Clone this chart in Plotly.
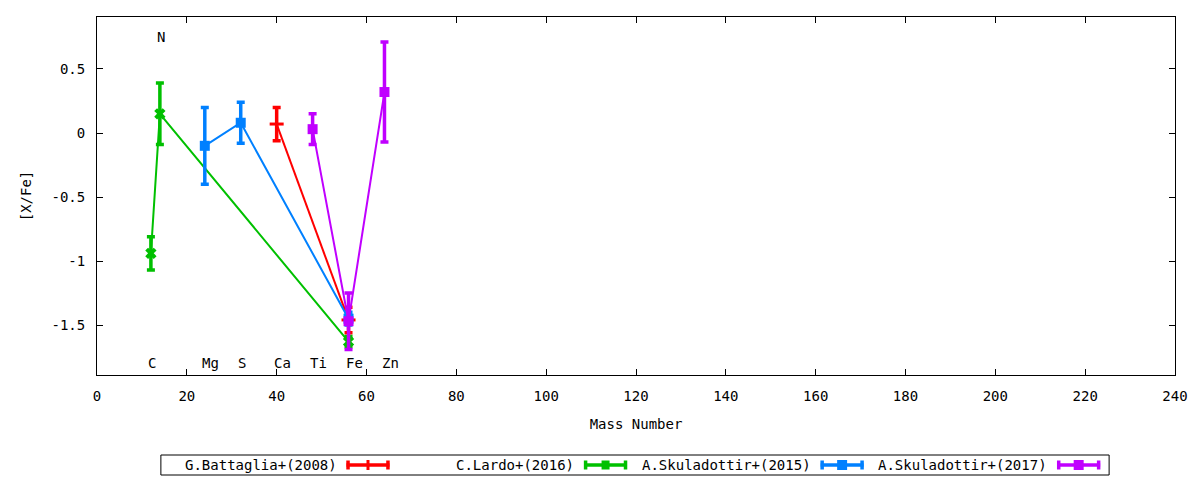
import plotly.graph_objects as go

# ---------------- data ----------------
series_names = ["G.Battaglia+(2008)", "C.Lardo+(2016)", "A.Skuladottir+(2015)", "A.Skuladottir+(2017)"]
series_colors = ["#ff0000", "#00c000", "#0080ff", "#c000ff"]

battaglia_x = [40, 56]
battaglia_y = [0.07, -1.46]
battaglia_err = [0.13, 0.10]

lardo_x = [12, 14, 56]
lardo_y = [-0.94, 0.15, -1.63]
lardo_err = [0.13, 0.24, 0.04]

sku2015_x = [24, 32, 56]
sku2015_y = [-0.10, 0.08, -1.45]
sku2015_err = [0.30, 0.16, 0.05]

sku2017_x = [48, 56, 64]
sku2017_y = [0.03, -1.47, 0.32]
sku2017_err = [0.12, 0.22, 0.39]

element_names = ["C", "Mg", "S", "Ca", "Ti", "Fe", "Zn"]
element_mass = [12, 24, 32, 40, 48, 56, 64]
top_element_names = ["N"]
top_element_mass = [14]

x_ticks = [0, 20, 40, 60, 80, 100, 120, 140, 160, 180, 200, 220, 240]
y_ticks = [0.5, 0, -0.5, -1, -1.5]
y_tick_text = ["0.5", "0", "-0.5", "-1", "-1.5"]

# ---------------- styling ----------------
FONT = "DejaVu Sans Mono"
FS = 14
W, H = 1200, 480
L, R, T, B = 97, 1177, 17, 375  # plot area in pixels

def px_x(px):
    return (px - L) / (R - L)

def px_y(py):
    return (B - py) / (B - T)

markers = [
    dict(symbol="line-ew", size=10, line=dict(width=3)),
    dict(symbol="x", size=10, line=dict(width=0)),
    dict(symbol="square", size=10),
    dict(symbol="square", size=10),
]

fig = go.Figure()
all_data = [
    (battaglia_x, battaglia_y, battaglia_err),
    (lardo_x, lardo_y, lardo_err),
    (sku2015_x, sku2015_y, sku2015_err),
    (sku2017_x, sku2017_y, sku2017_err),
]
for (xs, ys, es), name, col, mk in zip(all_data, series_names, series_colors, markers):
    m = dict(mk)
    m["color"] = col
    if "line" in m:
        m["line"] = dict(m["line"], color=col)
    fig.add_trace(go.Scatter(
        x=xs, y=ys, name=name, mode="lines+markers",
        line=dict(color=col, width=2),
        marker=m,
        error_y=dict(type="data", array=es, visible=True, color=col, thickness=3.5, width=4),
        showlegend=False,
    ))

txt_font = dict(family=FONT, size=FS, color="black")
annotations = []
for nm, ms in zip(element_names, element_mass):
    annotations.append(dict(x=ms - 1.0, y=-1.80, xref="x", yref="y", text=nm, showarrow=False,
                            xanchor="left", yanchor="middle", font=txt_font))
for nm, ms in zip(top_element_names, top_element_mass):
    annotations.append(dict(x=ms - 1.0, y=0.75, xref="x", yref="y", text=nm, showarrow=False,
                            xanchor="left", yanchor="middle", font=txt_font))

# ---------------- custom gnuplot-style key ----------------
shapes = []
key_y = 465
shapes.append(dict(type="rect", xref="paper", yref="paper",
                   x0=px_x(161), x1=px_x(1111), y0=px_y(475), y1=px_y(455),
                   line=dict(color="black", width=1), fillcolor="rgba(0,0,0,0)"))
text_right = [339, 577, 814, 1051]
for i, (name, col) in enumerate(zip(series_names, series_colors)):
    annotations.append(dict(x=px_x(text_right[i]), y=px_y(key_y), xref="paper", yref="paper",
                            text=name, showarrow=False, xanchor="right", yanchor="middle",
                            font=txt_font))
    s0 = text_right[i] + 8
    s1 = s0 + 43
    mid = (s0 + s1) / 2
    shapes.append(dict(type="line", xref="paper", yref="paper", x0=px_x(s0), x1=px_x(s1),
                       y0=px_y(key_y), y1=px_y(key_y), line=dict(color=col, width=3.5)))
    for sx in (s0 + 1.5, s1 - 1.5):
        shapes.append(dict(type="line", xref="paper", yref="paper", x0=px_x(sx), x1=px_x(sx),
                           y0=px_y(key_y - 4.5), y1=px_y(key_y + 4.5), line=dict(color=col, width=3.5)))
    if i == 0:
        shapes.append(dict(type="line", xref="paper", yref="paper", x0=px_x(mid), x1=px_x(mid),
                           y0=px_y(key_y - 5), y1=px_y(key_y + 5), line=dict(color=col, width=3)))
    elif i == 1:
        shapes.append(dict(type="rect", xref="paper", yref="paper", x0=px_x(mid - 4), x1=px_x(mid + 4),
                           y0=px_y(key_y + 4.5), y1=px_y(key_y - 4.5), line=dict(width=0), fillcolor=col))
    else:
        shapes.append(dict(type="rect", xref="paper", yref="paper", x0=px_x(mid - 5), x1=px_x(mid + 5),
                           y0=px_y(key_y + 5), y1=px_y(key_y - 5), line=dict(width=0), fillcolor=col))

axis_common = dict(showgrid=False, zeroline=False, showline=True, linecolor="black", linewidth=1,
                   mirror="allticks", ticks="inside", ticklen=6, tickcolor="black", tickwidth=1,
                   tickfont=txt_font)

fig.update_layout(
    width=W, height=H,
    margin=dict(l=L, r=W - R, t=T, b=H - B),
    paper_bgcolor="white", plot_bgcolor="white",
    font=txt_font,
    xaxis=dict(range=[0, 240], tickvals=x_ticks, ticklabelstandoff=8,
               title=dict(text="Mass Number", font=txt_font, standoff=16),
               **axis_common),
    yaxis=dict(range=[-1.89, 0.906], tickvals=y_ticks, ticktext=y_tick_text, ticklabelstandoff=8,
               title=dict(text="[X/Fe]", font=txt_font, standoff=16),
               **axis_common),
    annotations=annotations,
    shapes=shapes,
    showlegend=False,
)

fig.write_html("out.html", config={"displayModeBar": False})

# remove the default page margin so the figure sits at the window's origin
with open("out.html", "r", encoding="utf-8") as f:
    html = f.read()
html = html.replace("<head>", "<head><style>html,body{margin:0;padding:0;overflow:hidden;}</style>", 1)
with open("out.html", "w", encoding="utf-8") as f:
    f.write(html)
